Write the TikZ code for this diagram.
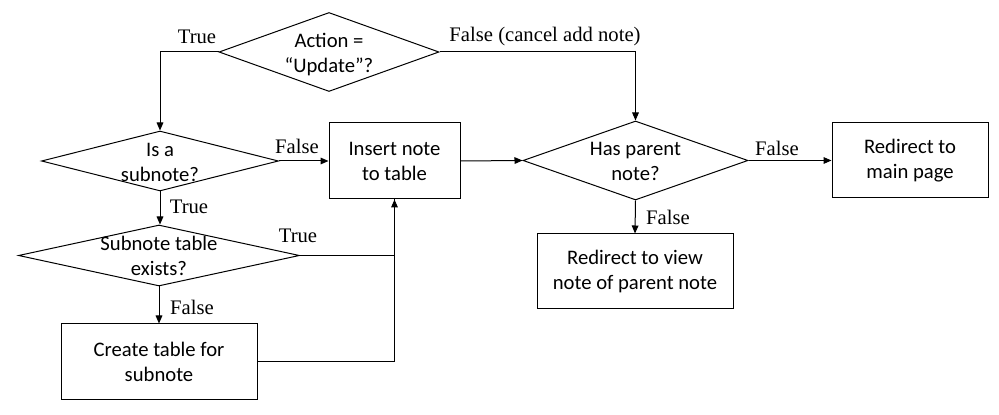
\documentclass[tikz,border=0pt]{standalone}
\usepackage{fontspec}
\setmainfont{Carlito}
\newfontfamily\timesfont{Liberation Serif}
\usetikzlibrary{shapes.geometric,arrows.meta}
\newcommand{\dlines}[1]{\makebox[0pt]{\raisebox{-2pt}[\height][\depth]{\begin{tabular}{@{}c@{}}#1\end{tabular}}}}
\begin{document}
\begin{tikzpicture}[
    x=0.75pt,y=0.75pt,
    every node/.style={font=\fontsize{15.5}{18.75}\selectfont},
    box/.style={draw, line width=0.75pt, align=center, inner sep=0pt},
    decide/.style={draw, diamond, aspect=1, inner sep=0pt, line width=0.75pt},
    lbl/.style={font=\timesfont\fontsize{15.5}{18}\selectfont, inner sep=0pt},
    ptr/.style={-{Triangle[length=6pt,width=5pt]}, line width=0.75pt}
]
    \useasboundingbox (0,0) rectangle (999,414);

    % decisions
    \node[decide, minimum width=165pt, minimum height=59.25pt] (act) at (329,362) {\dlines{Action =\\“Update”?}};
    \node[decide, minimum width=177.75pt, minimum height=45pt] (sub) at (160,253) {\dlines{Is a\\subnote?}};
    \node[decide, minimum width=168.75pt, minimum height=59.25pt] (par) at (635.5,253.5) {\dlines{Has parent\\note?}};
    \node[decide, minimum width=210.75pt, minimum height=45.75pt] (tbl) at (159,158.5) {\dlines{Subnote table\\exists?}};

    % actions
    \node[box, minimum width=98.25pt, minimum height=57pt] (ins) at (394.5,253) {Insert note\\to table};
    \node[box, minimum width=117pt, minimum height=56.25pt] (mainpg) at (910,253.5) {Redirect to\\main page};
    \node[box, minimum width=147pt, minimum height=56.25pt] (view) at (635,142.5) {Redirect to view\\note of parent note};
    \node[box, minimum width=147pt, minimum height=56.25pt] (crt) at (159,52.5) {Create table for\\subnote};

    % connectors
    \draw[ptr] (act.west) -| (sub.north);
    \draw[ptr] (act.east) -| (par.north);
    \draw[ptr] (sub.east) -- (ins.west);
    \draw[ptr] (ins.east) -- (par.west);
    \draw[ptr] (par.east) -- (mainpg.west);
    \draw[ptr] (par.south) -- (view.north);
    \draw[ptr] (sub.south) -- (sub.south |- tbl.north);
    \draw[ptr] (tbl.east) -| (ins.south);
    \draw[ptr] (tbl.south) -- (tbl.south |- crt.north);
    \draw[line width=0.75pt] (crt.east) -| (ins.south);

    % branch labels
    \node[lbl] (tAct) at (197,377) {True};
    \node[lbl] (fAct) at (545,377) {False (cancel add note)};
    \node[lbl] (fSub) at (297,268) {False};
    \node[lbl] (tSub) at (189,207) {True};
    \node[lbl] (fPar) at (777,266) {False};
    \node[lbl] (fPar2) at (668,197) {False};
    \node[lbl] (tTbl) at (298,178) {True};
    \node[lbl] (fTbl) at (192,107) {False};
\end{tikzpicture}
\end{document}
